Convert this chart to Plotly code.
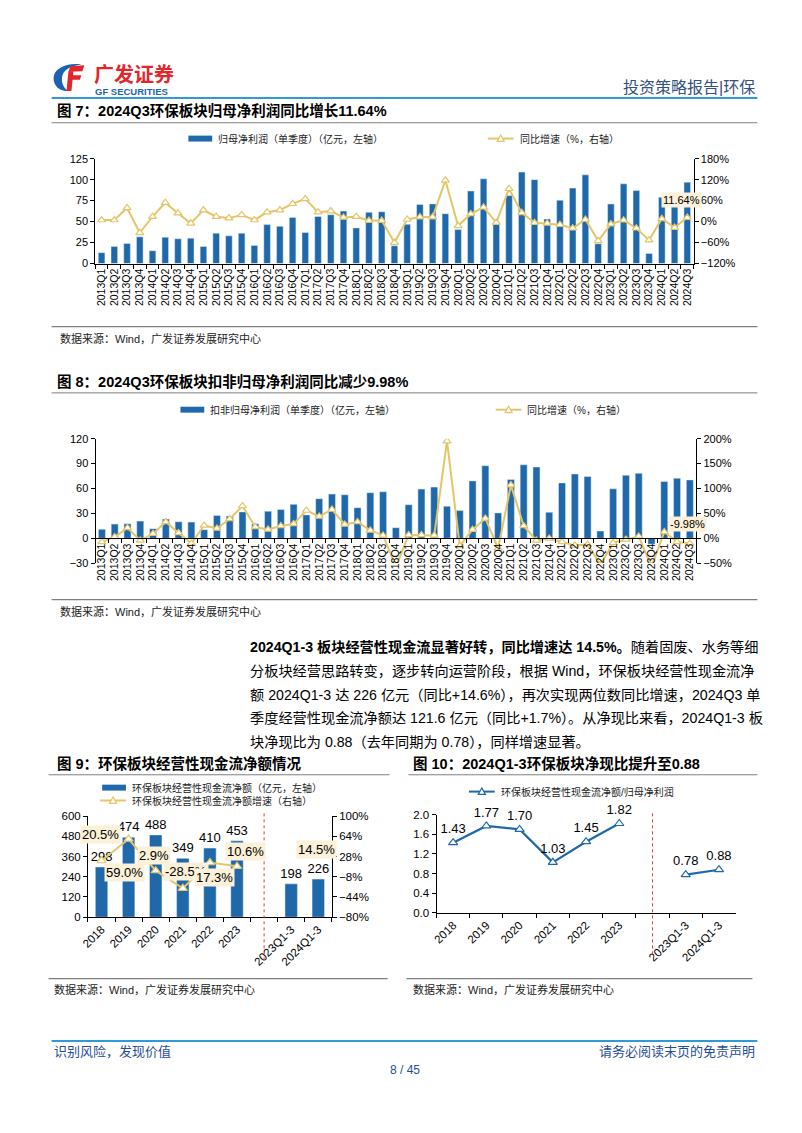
import plotly.graph_objects as go

W, H = 802, 1133
FONT = "'Liberation Sans', 'Noto Sans CJK SC', sans-serif"
BLUE = "#1F69AB"
GOLD = "#E4C568"
BEIGE = "#FBF0D8"
GRAY = "#7F7F7F"

# ---------------- data ----------------
quarters = ["2013Q1", "2013Q2", "2013Q3", "2013Q4", "2014Q1", "2014Q2", "2014Q3", "2014Q4",
            "2015Q1", "2015Q2", "2015Q3", "2015Q4", "2016Q1", "2016Q2", "2016Q3", "2016Q4",
            "2017Q1", "2017Q2", "2017Q3", "2017Q4", "2018Q1", "2018Q2", "2018Q3", "2018Q4",
            "2019Q1", "2019Q2", "2019Q3", "2019Q4", "2020Q1", "2020Q2", "2020Q3", "2020Q4",
            "2021Q1", "2021Q2", "2021Q3", "2021Q4", "2022Q1", "2022Q2", "2022Q3", "2022Q4",
            "2023Q1", "2023Q2", "2023Q3", "2023Q4", "2024Q1", "2024Q2", "2024Q3"]

# 图7 归母净利润（单季度，亿元）及同比（%）
np_parent = [13, 20.4, 24, 31.8, 15.3, 31.4, 29.5, 30.3,
             20.4, 36.2, 33, 36.2, 21.6, 46.4, 44.4, 55,
             37, 56.2, 58.2, 62.5, 42.5, 61, 61.7, 21.2,
             46.8, 70.4, 71.1, 59.4, 40.5, 86.5, 101, 47,
             81, 109, 100, 53, 75.5, 90, 105.7, 23.6,
             71, 95, 87, 12, 79, 72, 97]
np_parent_yoy = [4.5, 4.5, 39, -32, 14, 54, 24, -5,
                 33, 14, 10, 19, 4.5, 27, 33, 51,
                 65, 27, 30, 12, 14, 3, 3, -60,
                 6, 13, 13, 118, -12, 22, 41, -3,
                 94, 25, -3, -5, -9, -19, 6, -55,
                 -7, 4, -19, -53, 8, -17, 11.64]

# 图8 扣非归母净利润（单季度，亿元）及同比（%）
np_deduct = [10.9, 17.2, 17.6, 20.8, 11.7, 23.2, 20, 19.6,
             10.5, 27.5, 27.1, 31.9, 17.6, 32.7, 34.7, 41,
             28.3, 47.8, 53.3, 52.5, 37, 55, 56.1, 12.9,
             40.6, 59.3, 61.7, 38.7, 33.5, 69.2, 87.5, 30.7,
             70.8, 88.6, 85.9, 31.5, 66.8, 77.5, 74.4, 8.9,
             59.7, 76, 78.3, -7, 68.4, 72.4, 70.4]
np_deduct_yoy = [-7, 3, 21, -4, 9.5, 33, 11, -10,
                 26, 20, 39, 65, 23, 18, 25, 29,
                 56, 44, 58, 28, 33, 16, 6, -57,
                 7, 7, 6, 195, -15, 17.5, 40, -20,
                 107, 25, -4, 0, -7, -14, -12, -53,
                 -9, -2, 4, -57, 13, -7, -9.98]

# 图9 / 图10
periods = ["2018", "2019", "2020", "2021", "2022", "2023", " ", "2023Q1-3", "2024Q1-3"]
cash_flow = [298, 474, 488, 349, 410, 453, None, 198, 226]
cash_flow_yoy = [20.5, 59.0, 2.9, -28.5, 17.3, 10.6, None, None, 14.5]
cash_ratio = [1.43, 1.77, 1.70, 1.03, 1.45, 1.82, None, 0.78, 0.88]


def px(x):
    return x / W


def py(y):
    return 1 - y / H


fig = go.Figure()

# ---------------- chart 7 ----------------
fig.add_trace(go.Bar(x=quarters, y=np_parent, marker_color=BLUE, width=0.52,
                     xaxis="x", yaxis="y", hoverinfo="skip"))
fig.add_trace(go.Scatter(x=quarters, y=np_parent_yoy, mode="lines+markers",
                         line=dict(color=GOLD, width=2),
                         marker=dict(symbol="triangle-up", size=7, color="white",
                                     line=dict(color=GOLD, width=1.2)),
                         xaxis="x", yaxis="y2", hoverinfo="skip"))

# ---------------- chart 8 ----------------
fig.add_trace(go.Bar(x=quarters, y=np_deduct, marker_color=BLUE, width=0.55,
                     xaxis="x2", yaxis="y3", hoverinfo="skip"))
fig.add_trace(go.Scatter(x=quarters, y=np_deduct_yoy, mode="lines+markers",
                         line=dict(color=GOLD, width=2),
                         marker=dict(symbol="triangle-up", size=7, color="white",
                                     line=dict(color=GOLD, width=1.2)),
                         xaxis="x2", yaxis="y4", hoverinfo="skip"))

# ---------------- chart 9 ----------------
fig.add_trace(go.Bar(x=periods, y=cash_flow, marker_color=BLUE, width=0.46,
                     text=[("" if v is None else str(v)) for v in cash_flow],
                     textposition="outside", cliponaxis=False, constraintext="none",
                     textfont=dict(size=13, color="black", family=FONT),
                     xaxis="x3", yaxis="y5", hoverinfo="skip"))
fig.add_trace(go.Scatter(x=periods[:6], y=cash_flow_yoy[:6], mode="lines+markers",
                         line=dict(color=GOLD, width=2),
                         marker=dict(symbol="triangle-up", size=8, color="white",
                                     line=dict(color=GOLD, width=1.2)),
                         xaxis="x3", yaxis="y6", hoverinfo="skip"))

# ---------------- chart 10 ----------------
fig.add_trace(go.Scatter(x=periods, y=cash_ratio, mode="lines+markers+text",
                         text=[("" if v is None else f"{v:.2f}") for v in cash_ratio],
                         textposition="top center", cliponaxis=False,
                         textfont=dict(size=13, color="black", family=FONT),
                         line=dict(color=BLUE, width=2.2),
                         marker=dict(symbol="triangle-up", size=8, color="white",
                                     line=dict(color=BLUE, width=1.2)),
                         xaxis="x4", yaxis="y7", hoverinfo="skip"))


def xcat(d0, d1, angle, anchor, cats, size=11, **kw):
    a = dict(domain=[px(d0), px(d1)], type="category", tickangle=angle,
             range=[-0.5, len(cats) - 0.5], autorange=False,
             tickmode="array", tickvals=cats, ticktext=cats,
             categoryorder="array", categoryarray=cats,
             showline=True, linecolor="black", linewidth=1, ticks="outside",
             tickson="boundaries", ticklen=4, tickcolor="black",
             tickfont=dict(size=size, color="black", family=FONT),
             showgrid=False, zeroline=False, anchor=anchor, fixedrange=True)
    a.update(kw)
    return a


def yax(top, bottom, rng, dtick, anchor, side="left", suffix="", size=11, **kw):
    a = dict(domain=[py(bottom), py(top)], range=rng, dtick=dtick, tick0=rng[0],
             autorange=False,
             showline=True, linecolor="black", linewidth=1, ticks="outside",
             ticklen=4, tickcolor="black", ticksuffix=suffix, side=side,
             tickfont=dict(size=size, color="black", family=FONT),
             showgrid=False, zeroline=False, anchor=anchor, fixedrange=True)
    a.update(kw)
    return a


c8_zero = 563.3 - 30 * (563.3 - 437.3) / 150

fig.update_layout(
    width=W, height=H, margin=dict(l=0, r=0, t=0, b=0),
    paper_bgcolor="white", plot_bgcolor="rgba(0,0,0,0)", showlegend=False,
    font=dict(family=FONT, color="black"),
    xaxis=xcat(89, 692.7, -90, "y", quarters, size=10.5),
    yaxis=yax(154.3, 260.3, [0, 125], 25, "x"),
    yaxis2=yax(154.3, 260.3, [-120, 180], 60, "x", side="right", suffix="%", overlaying="y"),
    xaxis2=xcat(89.3, 695.3, -90, "free", quarters, size=10.5, position=py(c8_zero)),
    yaxis3=yax(437.3, 563.3, [-30, 120], 30, "x2"),
    yaxis4=yax(437.3, 563.3, [-50, 200], 50, "x2", side="right", suffix="%", overlaying="y3"),
    xaxis3=xcat(81.7, 327.7, -45, "y5", periods, size=11.5),
    yaxis5=yax(818.7, 921, [0, 600], 120, "x3", size=11.5),
    yaxis6=yax(818.7, 921, [-80, 100], 36, "x3", side="right", suffix="%", overlaying="y5", size=11.5),
    xaxis4=xcat(433.3, 735, -45, "y7", periods, size=11.5),
    yaxis7=yax(817.3, 916.7, [0, 2.0], 0.4, "x4", tickformat=".1f", size=11.5),
    xaxis5=dict(domain=[0, 1], range=[0, W], visible=False, anchor="y8", fixedrange=True),
    yaxis8=dict(domain=[0, 1], range=[H, 0], visible=False, anchor="x5", fixedrange=True),
)

shapes = []
ann = []


def hline(x0, x1, y, color=GRAY, width=1):
    shapes.append(dict(type="line", xref="x5", yref="y8", x0=x0, x1=x1, y0=y, y1=y,
                       line=dict(color=color, width=width)))


def text(x, y, t, size=11, color="black", xanchor="left", bold=False, bg=None):
    d = dict(xref="x5", yref="y8", x=x, y=y, text=(f"<b>{t}</b>" if bold else t),
             showarrow=False, xanchor=xanchor, yanchor="middle",
             font=dict(size=size, color=color, family=FONT))
    if bg:
        d["bgcolor"] = bg
    ann.append(d)


def tri(cx, cy, color, s=3.6):
    shapes.append(dict(type="path", xref="x5", yref="y8",
                       path=f"M {cx - s},{cy + s * 0.8} L {cx + s},{cy + s * 0.8} L {cx},{cy - s} Z",
                       fillcolor="white", line=dict(color=color, width=1.2)))


def bar_legend(x0, y, label):
    shapes.append(dict(type="rect", xref="x5", yref="y8", x0=x0, x1=x0 + 24, y0=y - 3, y1=y + 3,
                       fillcolor=BLUE, line=dict(width=0)))
    text(x0 + 28, y, label, size=10, color="#222")


def line_legend(x0, y, label, color=GOLD):
    shapes.append(dict(type="line", xref="x5", yref="y8", x0=x0, x1=x0 + 26, y0=y, y1=y,
                       line=dict(color=color, width=2)))
    tri(x0 + 13, y, color)
    text(x0 + 30, y, label, size=10, color="#222")


# header
shapes.append(dict(type="path", xref="x5", yref="y8",
                   path="M 75,59 C 60,57 47,63 47,73 C 47,81 53,86 62,86 C 57,83 55,78 55.5,72.5 C 56,65 63,60.5 75,59 Z",
                   fillcolor="#1D62B0", line=dict(width=0)))
shapes.append(dict(type="path", xref="x5", yref="y8",
                   path="M 64,61 L 78,60 L 76,66 L 62,66.5 Z", fillcolor="#E3262B", line=dict(width=0)))
shapes.append(dict(type="path", xref="x5", yref="y8",
                   path="M 62,66 L 67,66 L 65,86 L 60,86 Z", fillcolor="#E3262B", line=dict(width=0)))
shapes.append(dict(type="path", xref="x5", yref="y8",
                   path="M 65,70 L 75,70 L 73.5,74.5 L 64.5,74.5 Z", fillcolor="#E3262B", line=dict(width=0)))
text(86, 70, "广发证券", size=20, color="#E3262B", bold=True)
text(87, 86, "GF SECURITIES", size=9.5, color="#1D62B0", bold=True)
text(757, 82, "投资策略报告|环保", size=16, color="#34507E", xanchor="right")
hline(45, 757, 93, color="#2E9BD6", width=2)

# figure 7
text(48, 106, "图 7：2024Q3环保板块归母净利润同比增长11.64%", size=14.5, bold=True)
hline(45, 757, 118, width=1)
bar_legend(183, 134, "归母净利润（单季度）（亿元，左轴）")
line_legend(485, 134, "同比增速（%，右轴）")
text(680.5, 196, "11.64%", size=11, xanchor="center", bg=BEIGE)
hline(45, 757, 324, width=1.2)
text(51, 336, "数据来源：Wind，广发证券发展研究中心", size=11, color="#222")

# figure 8
text(48, 380, "图 8：2024Q3环保板块扣非归母净利润同比减少9.98%", size=14.5, bold=True)
hline(45, 757, 391, width=1)
bar_legend(175, 408, "扣非归母净利润（单季度）（亿元，左轴）")
line_legend(493, 408, "同比增速（%，右轴）")
text(686, 524, "-9.98%", size=11, xanchor="center", bg=BEIGE)
hline(45, 757, 600, width=1.2)
text(51, 612, "数据来源：Wind，广发证券发展研究中心", size=11, color="#222")

# paragraph
para = [
    "<b>2024Q1-3 板块经营性现金流显著好转，同比增速达 14.5%。</b>随着固废、水务等细",
    "分板块经营思路转变，逐步转向运营阶段，根据 Wind，环保板块经营性现金流净",
    "额 2024Q1-3 达 226 亿元（同比+14.6%），再次实现两位数同比增速，2024Q3 单",
    "季度经营性现金流净额达 121.6 亿元（同比+1.7%）。从净现比来看，2024Q1-3 板",
    "块净现比为 0.88（去年同期为 0.78），同样增速显著。",
]
for i, line in enumerate(para):
    text(243, 648 + i * 24, line, size=14.2)

# figure 9
text(48, 766, "图 9：环保板块经营性现金流净额情况", size=14.5, bold=True)
hline(42, 386, 777, width=1)
bar_legend(96, 790, "环保板块经营性现金流净额（亿元，左轴）")
line_legend(94, 803, "环保板块经营性现金流净额增速（右轴）")
shifts = [(-1, 26), (-4, -33), (-2, 15), (3, 17), (5, -15), (8, 15), None, None, (-2, 15)]
for i, (v, s) in enumerate(zip(cash_flow_yoy, shifts)):
    if v is None:
        continue
    ann.append(dict(xref="x3", yref="y6", x=i, y=v, text=f"{v:.1f}%", showarrow=False,
                    xshift=s[0], yshift=s[1], bgcolor=BEIGE,
                    font=dict(size=13, color="black", family=FONT)))
shapes.append(dict(type="line", xref="x3", yref="y8", x0=6, x1=6, y0=816, y1=968,
                   line=dict(color="#E03A3A", width=1, dash="dot")))
hline(42, 384, 983, width=1.2)
text(45, 994, "数据来源：Wind，广发证券发展研究中心", size=11, color="#222")

# figure 10
text(408, 766, "图 10：2024Q1-3环保板块净现比提升至0.88", size=14.5, bold=True)
hline(405, 757, 777, width=1)
line_legend(466, 794, "环保板块经营性现金流净额/归母净利润", color=BLUE)
shapes.append(dict(type="line", xref="x4", yref="y8", x0=6, x1=6, y0=816, y1=958,
                   line=dict(color="#E03A3A", width=1, dash="dot")))
hline(403, 752, 983, width=1.2)
text(408, 994, "数据来源：Wind，广发证券发展研究中心", size=11, color="#222")

# footer
hline(45, 757, 1046, color="#2E9BD6", width=2)
text(45, 1057, "识别风险，发现价值", size=13, color="#1F4E96")
text(757, 1057, "请务必阅读末页的免责声明", size=13, color="#1F4E96", xanchor="right")
text(401, 1075, "8 / 45", size=12, color="#1F4E96", xanchor="center")

fig.update_layout(shapes=shapes, annotations=ann)

fig.write_html("out.html", config={"displayModeBar": False},
               post_script="document.body.style.margin='0';document.body.style.overflow='hidden';")
